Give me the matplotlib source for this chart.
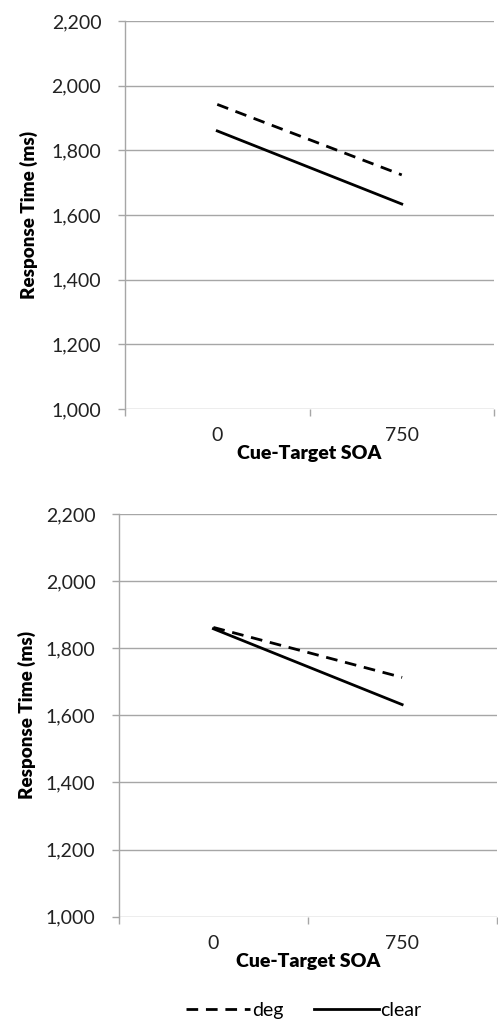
import matplotlib
matplotlib.use("Agg")
import matplotlib.pyplot as plt
from matplotlib.ticker import FuncFormatter

plt.rcParams['font.family'] = ['Lato', 'DejaVu Sans']

# data
soa_labels = ["0", "750"]
top_deg = [1942, 1724]
top_clear = [1860, 1634]
bottom_deg = [1862, 1713]
bottom_clear = [1858, 1632]

y_min, y_max = 1000, 2200
y_ticks = [1000, 1200, 1400, 1600, 1800, 2000, 2200]

grid_col = "#a6a6a6"

fig = plt.figure(figsize=(4.98, 10.28), dpi=100)
ax_top = fig.add_axes([0.251, 0.6021, 0.741, 0.3775])
ax_bot = fig.add_axes([0.239, 0.1083, 0.758, 0.3917])


def style_axis(ax, deg, clear):
    xs = [0.5, 1.5]
    ax.plot(xs, deg, color="black", lw=2.0, dashes=(4.2, 2.8), label="deg",
            solid_capstyle="butt", dash_capstyle="butt")
    ax.plot(xs, clear, color="black", lw=2.0, label="clear")
    ax.set_xlim(0, 2)
    ax.set_ylim(y_min, y_max)
    ax.set_yticks(y_ticks)
    ax.yaxis.set_major_formatter(FuncFormatter(lambda v, p: "{:,.0f}".format(v)))
    ax.grid(axis="y", color=grid_col, lw=1.0)
    ax.set_axisbelow(True)
    for s in ["top", "right", "bottom"]:
        ax.spines[s].set_visible(False)
    ax.spines["left"].set_color(grid_col)
    ax.spines["left"].set_linewidth(1.0)
    ax.tick_params(axis="y", length=5, color=grid_col, width=1.0,
                   labelsize=14, labelcolor="#222222", pad=12)
    # category boundaries as major ticks, labels at centers
    ax.set_xticks([0, 1, 2])
    ax.set_xticklabels(["", "", ""])
    ax.set_xticks(xs, minor=True)
    ax.set_xticklabels(soa_labels, minor=True)
    ax.tick_params(axis="x", which="major", length=5, color=grid_col, width=1.0)
    ax.tick_params(axis="x", which="minor", length=0, labelsize=14,
                   labelcolor="#222222", pad=13)
    ax.set_xlabel("Cue-Target SOA", fontsize=14, fontweight="heavy")
    ax.set_ylabel("Response Time (ms)", fontsize=13.5, fontweight="heavy")


style_axis(ax_top, top_deg, top_clear)
style_axis(ax_bot, bottom_deg, bottom_clear)

ax_top.xaxis.set_label_coords(0.5, -0.092)
ax_bot.xaxis.set_label_coords(0.5, -0.09)
ax_top.yaxis.set_label_coords(-0.235, 0.5)
ax_bot.yaxis.set_label_coords(-0.22, 0.5)

fig.legend(*ax_bot.get_legend_handles_labels(), loc="center",
           bbox_to_anchor=(0.61, 0.0175), ncol=2, frameon=False,
           fontsize=14, handlelength=3.3, handletextpad=0.1,
           columnspacing=1.6)

fig.savefig("out.png", dpi=100, facecolor="white")
